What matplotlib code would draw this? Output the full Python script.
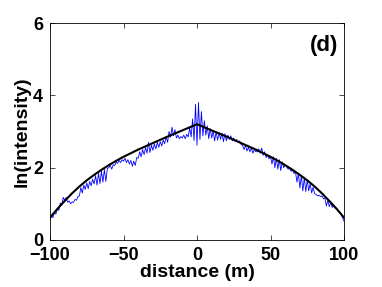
import matplotlib
matplotlib.use("Agg")
import matplotlib.pyplot as plt
import numpy as np

# smooth model curve (black)
fit_x = [-100, -95, -90, -85, -80, -75, -70, -65, -60, -55, -50, -45, -40, -35, -30, -25, -20, -15, -10, -5,
         0, 5, 10, 15, 20, 25, 30, 35, 40, 45, 50, 55, 60, 65, 70, 75, 80, 85, 90, 95, 100]
fit_y = [0.62, 0.86, 1.08, 1.29, 1.48, 1.65, 1.80, 1.94, 2.07, 2.19, 2.30, 2.40, 2.50, 2.59, 2.68, 2.77, 2.86, 2.945, 3.03, 3.115,
         3.20, 3.115, 3.03, 2.945, 2.86, 2.77, 2.68, 2.59, 2.50, 2.40, 2.30, 2.19, 2.07, 1.94, 1.80, 1.65, 1.48, 1.29, 1.08, 0.86, 0.62]

# measured profile (blue), 1 m spacing from -100 to 100
meas_x = list(range(-100, 101))
meas_y = [
    0.55, 0.66, 0.62, 0.76, 0.72, 0.86, 0.82, 1.02, 0.96, 1.18,          # -100..-91
    1.10, 1.18, 1.04, 1.08, 1.00, 1.05, 1.04, 1.12, 1.10, 1.20,          # -90..-81
    1.22, 1.45, 1.30, 1.52, 1.40, 1.58, 1.42, 1.62, 1.50, 1.68,          # -80..-71
    1.55, 1.78, 1.52, 1.84, 1.56, 1.90, 1.60, 1.95, 1.62, 1.98,          # -70..-61
    2.00, 2.06, 1.96, 2.08, 2.06, 2.16, 2.12, 2.20, 2.14, 2.22,          # -60..-51
    2.18, 2.26, 2.14, 2.22, 2.10, 2.20, 2.04, 2.18, 2.06, 2.28,          # -50..-41
    2.26, 2.44, 2.30, 2.50, 2.36, 2.56, 2.40, 2.70, 2.42, 2.62,          # -40..-31
    2.48, 2.66, 2.52, 2.70, 2.56, 2.72, 2.60, 2.76, 2.66, 2.86,          # -30..-21
    2.70, 3.00, 2.84, 3.12, 2.88, 3.05, 2.82, 2.90, 2.80, 2.86,          # -20..-11
    2.82, 2.90, 2.80, 2.92, 2.85, 3.10, 2.85, 3.35, 2.75, 3.75,          # -10..-1
    2.62,                                                                # 0
    3.80, 2.78, 3.55, 2.88, 3.30, 2.90, 3.15, 2.80, 3.08, 2.82,          # 1..10
    3.02, 2.74, 3.00, 2.76, 2.98, 2.78, 2.96, 2.72, 2.94, 2.74,          # 11..20
    2.90, 2.78, 2.88, 2.74, 2.82, 2.72, 2.78, 2.70, 2.74, 2.64,          # 21..30
    2.62, 2.50, 2.62, 2.46, 2.56, 2.44, 2.54, 2.40, 2.50, 2.44,          # 31..40
    2.44, 2.52, 2.40, 2.54, 2.34, 2.44, 2.28, 2.36, 2.24, 2.32,          # 41..50
    2.10, 2.30, 2.00, 2.26, 1.96, 2.22, 1.92, 2.16, 2.00, 2.08,          # 51..60
    2.02, 1.96, 1.98, 1.90, 1.94, 1.84, 1.88, 1.60, 1.84, 1.44,          # 61..70
    1.78, 1.36, 1.72, 1.34, 1.66, 1.36, 1.56, 1.30, 1.46, 1.28,          # 71..80
    1.26, 1.22, 1.24, 1.20, 1.22, 1.14, 1.16, 0.94, 1.10, 0.92,          # 81..90
    1.04, 0.90, 0.96, 0.88, 0.88, 0.80, 0.78, 0.70, 0.62, 0.52,          # 91..100
]

x_ticks = [-100, -50, 0, 50, 100]
y_ticks = [0, 2, 4, 6]
x_label = "distance (m)"
y_label = "ln(intensity)"
panel_tag = "(d)"

plt.rcParams['font.family'] = ['Liberation Sans', 'DejaVu Sans']
plt.rcParams['font.weight'] = 'bold'

fig = plt.figure(figsize=(3.82, 2.87), dpi=100)
ax = fig.add_axes([50/382, 47/287, 294/382, 217/287])

ax.plot(meas_x, meas_y, color=(0, 0, 1), linewidth=0.6)
ax.plot(fit_x, fit_y, color='black', linewidth=1.5)

ax.set_xlim(-100, 100)
ax.set_ylim(0, 6)
ax.set_xticks(x_ticks)
ax.set_yticks(y_ticks)
ax.tick_params(direction='in', top=True, right=True, length=3.5, width=0.5,
               labelsize=13, pad=5)
for lab in ax.get_xticklabels() + ax.get_yticklabels():
    lab.set_fontweight('bold')
for s in ax.spines.values():
    s.set_linewidth(0.6)

ax.set_xlabel(x_label, fontsize=14, fontweight='bold', labelpad=0)
ax.set_ylabel(y_label, fontsize=14, fontweight='bold', labelpad=2)
ax.text(0.98, 0.895, panel_tag, transform=ax.transAxes, ha='right', va='center',
        fontsize=16, fontweight='bold')

fig.savefig("out.png", dpi=100)
